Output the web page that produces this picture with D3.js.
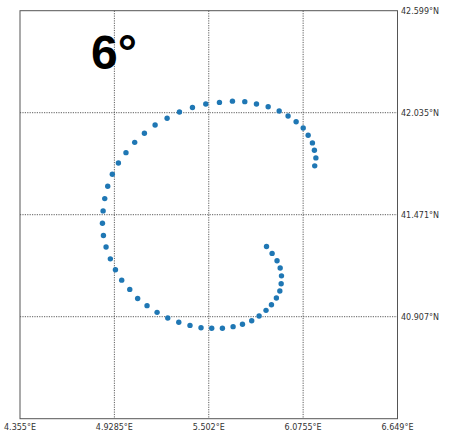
<!DOCTYPE html>
<html>
<head>
<meta charset="utf-8">
<script src="https://cdn.jsdelivr.net/npm/d3@7"></script>
<style>
  html, body { margin: 0; padding: 0; background: #fff; }
  svg { display: block; }
</style>
</head>
<body>
<svg id="chart" width="452" height="432"></svg>
<script>
// Track positions (degrees)
const lons = [6.146, 6.153, 6.144, 6.132, 6.106, 6.076, 6.033, 5.984, 5.930, 5.863,
  5.792, 5.721, 5.646, 5.567, 5.484, 5.403, 5.324, 5.249, 5.176, 5.111,
  5.052, 4.999, 4.953, 4.916, 4.888, 4.870, 4.860, 4.856, 4.862, 4.878,
  4.904, 4.935, 4.973, 5.022, 5.070, 5.127, 5.188, 5.253, 5.320, 5.388,
  5.455, 5.520, 5.585, 5.650, 5.707, 5.763, 5.808, 5.850, 5.883, 5.913,
  5.934, 5.942, 5.944, 5.936, 5.917, 5.887, 5.853];
const lats = [41.741, 41.785, 41.827, 41.868, 41.910, 41.950, 41.985, 42.017, 42.044, 42.068,
  42.083, 42.096, 42.099, 42.092, 42.083, 42.064, 42.039, 42.004, 41.967, 41.921,
  41.871, 41.814, 41.757, 41.695, 41.628, 41.560, 41.492, 41.424, 41.356, 41.292,
  41.227, 41.167, 41.109, 41.058, 41.008, 40.968, 40.931, 40.900, 40.876, 40.859,
  40.846, 40.843, 40.843, 40.852, 40.865, 40.885, 40.911, 40.942, 40.973, 41.010,
  41.049, 41.089, 41.133, 41.176, 41.216, 41.257, 41.295];

// Map extent and graticule
const lonExtent = [4.355, 6.649];
const latExtent = [40.343, 42.599];
const lonTicks = [4.355, 4.9285, 5.502, 6.0755, 6.649];
const latTicks = [40.907, 41.471, 42.035, 42.599];
const lonLabels = ["4.355°E", "4.9285°E", "5.502°E", "6.0755°E", "6.649°E"];
const latLabels = ["40.907°N", "41.471°N", "42.035°N", "42.599°N"];
const title = "6°";

const plotL = 20, plotR = 397.5, plotT = 10.7, plotB = 418.7;

const x = d3.scaleLinear().domain(lonExtent).range([plotL, plotR]);
const y = d3.scaleLinear().domain(latExtent).range([plotB, plotT]);

const svg = d3.select("#chart");

// Graticule lines (interior only)
const grid = svg.append("g").attr("stroke", "#333").attr("stroke-width", 0.8)
  .attr("stroke-dasharray", "1.2,1.2");
grid.selectAll("line.v").data(lonTicks.slice(1, -1)).join("line")
  .attr("class", "v")
  .attr("x1", d => x(d)).attr("x2", d => x(d))
  .attr("y1", plotT).attr("y2", plotB);
grid.selectAll("line.h").data(latTicks.slice(0, -1)).join("line")
  .attr("class", "h")
  .attr("x1", plotL).attr("x2", plotR)
  .attr("y1", d => y(d)).attr("y2", d => y(d));

// Track points
const pts = lons.map((lo, i) => [lo, lats[i]]);
svg.append("g").selectAll("circle").data(pts).join("circle")
  .attr("cx", d => x(d[0])).attr("cy", d => y(d[1]))
  .attr("r", 2.7).attr("fill", "#1f77b4");

// Frame
svg.append("rect").attr("x", plotL).attr("y", plotT)
  .attr("width", plotR - plotL).attr("height", plotB - plotT)
  .attr("fill", "none").attr("stroke", "#555").attr("stroke-width", 1);

// Longitude labels
svg.append("g").selectAll("text").data(lonTicks).join("text")
  .attr("x", d => x(d)).attr("y", 430)
  .attr("text-anchor", "middle")
  .attr("font-family", "DejaVu Sans").attr("font-size", 8).attr("fill", "#333")
  .text((d, i) => lonLabels[i]);

// Latitude labels
svg.append("g").selectAll("text").data(latTicks).join("text")
  .attr("x", 401).attr("y", d => y(d))
  .attr("dy", "0.35em")
  .attr("font-family", "DejaVu Sans").attr("font-size", 8).attr("fill", "#333")
  .text((d, i) => latLabels[i]);

// Title
svg.append("text").attr("x", 91).attr("y", 68.5)
  .attr("font-family", "Liberation Sans, Arial, sans-serif")
  .attr("font-weight", "bold").attr("font-size", 48).attr("fill", "#000")
  .text(title);
</script>
</body>
</html>
